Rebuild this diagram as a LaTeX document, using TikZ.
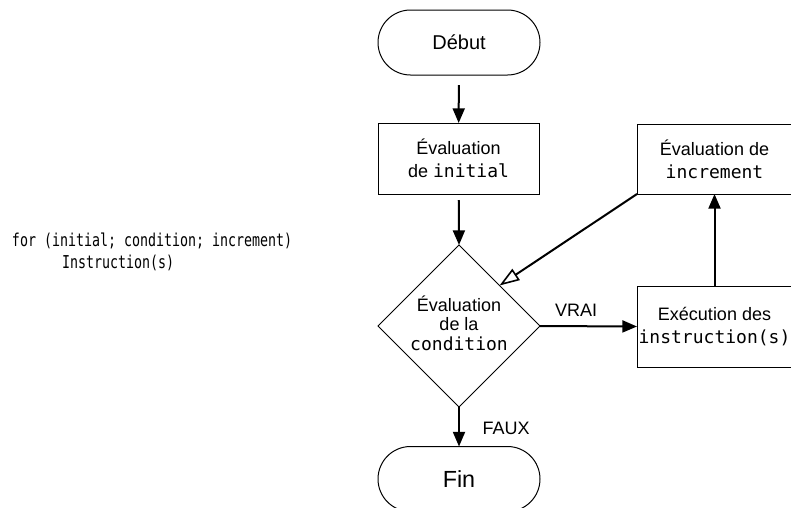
\documentclass[tikz,border=0pt]{standalone}
\usepackage{fontspec}
\setmainfont{Liberation Sans}
\setmonofont{DejaVu Sans Mono}
\newfontfamily\codefont[FakeStretch=0.75]{DejaVu Sans Mono}
\usetikzlibrary{shapes.geometric,shapes.misc,arrows.meta}
\tikzset{
  every node/.style={inner sep=0pt, outer sep=0pt},
  term/.style={rounded rectangle, draw, line width=0.75pt, minimum width=121.5pt, minimum height=48.75pt},
  procbox/.style={rectangle, draw, line width=0.75pt, align=center, font=\fontsize{13.5}{17.5}\selectfont},
  decision/.style={diamond, draw, line width=0.75pt, aspect=1, minimum size=121.5pt},
  flow/.style={line width=1.5pt, -{Triangle[length=11pt,width=9pt]}},
  backflow/.style={line width=1.5pt, -{Triangle[open,length=15pt,width=10pt,line width=1.2pt]}},
  lbl/.style={font=\fontsize{13.5}{16}\selectfont},
  codetxt/.style={font=\codefont\fontsize{13.3}{16}\selectfont, anchor=west}
}
\begin{document}
\begin{tikzpicture}[x=0.75pt,y=-0.75pt]
\useasboundingbox (0,0) rectangle (791,507);
\node[term, font=\fontsize{15}{18}\selectfont] (debut) at (459,42.5) {Début};
\node[procbox, minimum width=120.75pt, minimum height=53.25pt] (init) at (458.5,158.5) {Évaluation\\de \texttt{initial}};
\node[decision] (cond) at (459,326) {};
\node[align=center, font=\fontsize{13.5}{14.5}\selectfont] (condtext) at (459,323) {Évaluation\\de la\\\texttt{condition}};
\node[term, font=\fontsize{17.5}{20}\selectfont] (fin) at (459,479) {Fin};
\node[procbox, minimum width=116.25pt, minimum height=52.5pt] (incr) at (714.5,159) {Évaluation de\\\texttt{increment}};
\node[procbox, minimum width=116.25pt, minimum height=60.75pt] (exec) at (714.5,326.5) {Exécution des\\\texttt{instruction(s)}};
\node[lbl] (vrai) at (576,310) {VRAI};
\node[lbl] (faux) at (506,428) {FAUX};
\node[codetxt] (code1) at (12,241) {for (initial; condition; increment)};
\node[codetxt] (code2) at (62,263) {Instruction(s)};
\draw[flow, shorten <=7.5pt] (debut) -- (init);
\draw[flow, shorten <=4.5pt] (init) -- (cond.north);
\draw[flow] (cond.south) -- (fin.north);
\draw[flow] (cond.east) -- (exec.west);
\draw[flow] (exec.north) -- (incr.south);
\draw[backflow] (incr.south west) -- (cond.north east);
\end{tikzpicture}
\end{document}
